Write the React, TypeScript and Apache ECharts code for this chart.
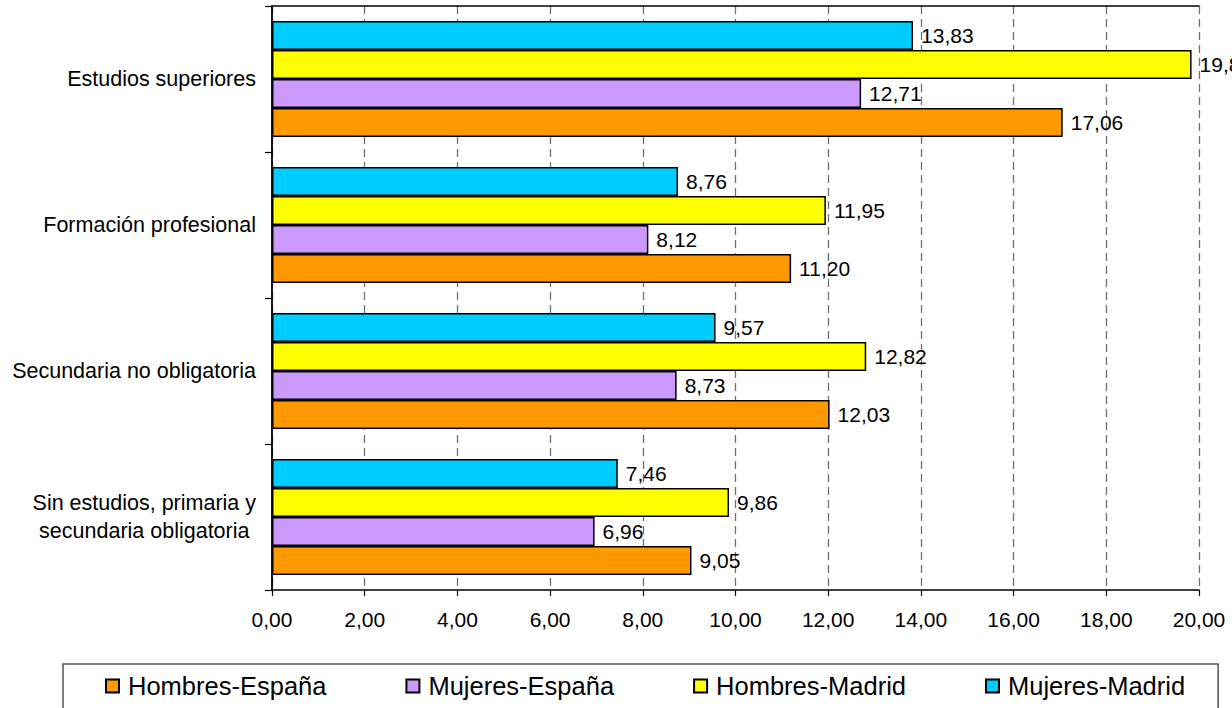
import React, { useEffect, useRef } from "react";
import * as echarts from "echarts";

// Education levels, listed bottom to top as they appear on the category axis
const categories: string[] = [
  "Sin estudios, primaria y\nsecundaria obligatoria",
  "Secundaria no obligatoria",
  "Formación profesional",
  "Estudios superiores",
];

const seriesNames: string[] = [
  "Hombres-España",
  "Mujeres-España",
  "Hombres-Madrid",
  "Mujeres-Madrid",
];

const hombresEspana: number[] = [9.05, 12.03, 11.2, 17.06];
const mujeresEspana: number[] = [6.96, 8.73, 8.12, 12.71];
const hombresMadrid: number[] = [9.86, 12.82, 11.95, 19.84];
const mujeresMadrid: number[] = [7.46, 9.57, 8.76, 13.83];

const seriesColors: string[] = ["#FF9900", "#CC99FF", "#FFFF00", "#00CCFF"];

const xMin = 0;
const xMax = 20;
const xInterval = 2;

const FONT = "'Liberation Sans', Arial, Helvetica, sans-serif";

const fmt = (v: number) => v.toFixed(2).replace(".", ",");

export default function App() {
  const ref = useRef<HTMLDivElement>(null);

  useEffect(() => {
    if (!ref.current) return;
    const chart = echarts.init(ref.current, undefined, { renderer: "svg" });

    const allValues = [hombresEspana, mujeresEspana, hombresMadrid, mujeresMadrid];

    // Bars inside a group are stacked top-down in series order, so the
    // series are added last-first to put Hombres-España at the bottom.
    const order = [3, 2, 1, 0];

    chart.setOption({
      animation: false,
      backgroundColor: "#ffffff",
      textStyle: { fontFamily: FONT },
      grid: { left: 272, right: 33, top: 6, bottom: 118, containLabel: false },
      legend: {
        data: seriesNames,
        left: 63,
        top: 664,
        width: 1150,
        orient: "horizontal",
        padding: [8, 33, 40, 42],
        borderColor: "#555555",
        borderWidth: 1.5,
        itemWidth: 13,
        itemHeight: 13,
        itemGap: 79,
        icon: "rect",
        textStyle: {
          fontFamily: FONT,
          fontSize: 25.5,
          color: "#000000",
          lineHeight: 28,
          padding: [0, 0, 0, 4],
        },
      },
      xAxis: [
        {
          type: "value",
          position: "bottom",
          min: xMin,
          max: xMax,
          interval: xInterval,
          axisLine: { show: true, lineStyle: { color: "#000000", width: 1.5 } },
          axisTick: { show: true, inside: false, length: 6, lineStyle: { color: "#000000", width: 1.2 } },
          axisLabel: {
            formatter: (v: number) => fmt(v),
            fontFamily: FONT,
            fontSize: 21,
            color: "#000000",
            margin: 19,
          },
          splitLine: {
            show: true,
            lineStyle: { color: "#707070", width: 1.3, type: [8, 5] },
          },
        },
        {
          // plain frame line along the top edge of the plot
          type: "value",
          position: "top",
          min: xMin,
          max: xMax,
          interval: xInterval,
          axisLine: { show: true, lineStyle: { color: "#000000", width: 1.5 } },
          axisTick: { show: false },
          axisLabel: { show: false },
          splitLine: { show: false },
        },
      ],
      yAxis: {
        type: "category",
        data: categories,
        boundaryGap: true,
        axisLine: { show: true, lineStyle: { color: "#000000", width: 1.8 } },
        axisTick: { show: true, inside: false, length: 7, lineStyle: { color: "#000000", width: 1.2 } },
        axisLabel: {
          fontFamily: FONT,
          fontSize: 21.5,
          color: "#000000",
          margin: 16,
          align: "right",
          lineHeight: 28,
          formatter: (v: string) =>
            v.includes("\n")
              ? v
                  .split("\n")
                  .map((l) => `{c|${l}}`)
                  .join("\n")
              : v,
          rich: {
            c: { align: "center", fontFamily: FONT, fontSize: 21.5, lineHeight: 28, color: "#000000" },
          },
        },
        splitLine: { show: false },
      },
      series: order.map((i) => ({
        name: seriesNames[i],
        type: "bar",
        xAxisIndex: 0,
        data: allValues[i],
        barGap: "0%",
        barCategoryGap: "20.5%",
        itemStyle: {
          color: seriesColors[i],
          borderColor: "#000000",
          borderWidth: 1.5,
        },
        label: {
          show: true,
          position: "right",
          distance: 8,
          fontFamily: FONT,
          fontSize: 21,
          color: "#000000",
          formatter: (p: any) => fmt(p.value as number),
        },
      })),
    });

    return () => {
      chart.dispose();
    };
  }, []);

  return (
    <div
      ref={ref}
      style={{ position: "absolute", left: 0, top: 0, width: 1232, height: 708 }}
    />
  );
}
